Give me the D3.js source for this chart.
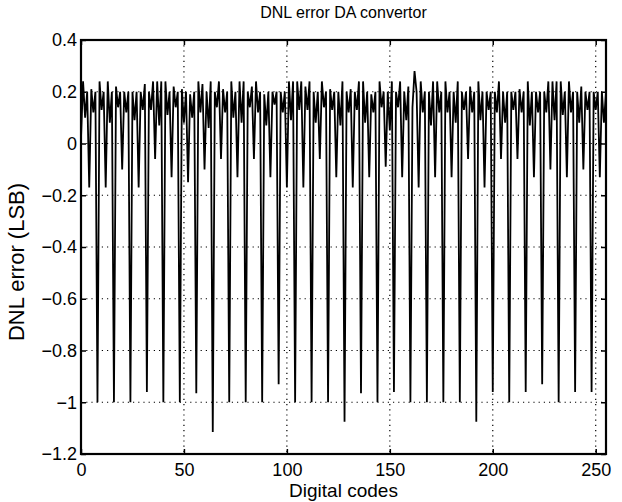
<!DOCTYPE html>
<html>
<head>
<meta charset="utf-8">
<script src="https://cdn.jsdelivr.net/npm/d3@7"></script>
<style>
  body { margin: 0; background: #fff; }
  text { font-family: "Liberation Sans", Arial, Helvetica, sans-serif; fill: #000; }
</style>
</head>
<body>
<div id="chart"></div>
<script>
// DNL error per digital code (0..255)
const dnl = [
   0.02, 0.24, 0.10, 0.20, -0.17, 0.21, 0.12, 0.20,
  -1.00, 0.24, 0.13, 0.20, -0.17, 0.24, 0.08, 0.20,
  -1.00, 0.22, 0.14, 0.20, -0.10, 0.20, 0.12, 0.20,
  -1.00, 0.20, 0.09, 0.20, -0.17, 0.20, 0.13, 0.23,
  -0.96, 0.20, 0.13, 0.24, -0.06, 0.24, 0.07, 0.24,
  -1.00, 0.24, 0.11, 0.20, -0.13, 0.22, 0.14, 0.20,
  -1.00, 0.21, 0.08, 0.20, -0.15, 0.19, 0.10, 0.20,
  -0.965, 0.24, 0.12, 0.23, -0.10, 0.20, 0.06, 0.24,
  -1.115, 0.20, 0.14, 0.24, -0.06, 0.21, 0.12, 0.20,
  -1.00, 0.24, 0.10, 0.20, -0.13, 0.24, 0.08, 0.24,
  -1.00, 0.20, 0.14, 0.22, -0.06, 0.24, 0.12, 0.20,
  -1.00, 0.19, 0.07, 0.20, -0.13, 0.20, 0.15, 0.20,
  -0.93, 0.20, 0.12, 0.20, -0.17, 0.24, 0.09, 0.24,
  -1.00, 0.24, 0.13, 0.24, -0.17, 0.22, 0.13, 0.24,
  -1.00, 0.20, 0.08, 0.20, -0.06, 0.24, 0.14, 0.20,
  -1.00, 0.21, 0.13, 0.20, -0.13, 0.20, 0.07, 0.24,
  -1.075, 0.20, 0.12, 0.21, -0.17, 0.20, 0.13, 0.24,
  -0.965, 0.24, 0.08, 0.20, -0.13, 0.19, 0.12, 0.20,
  -1.00, 0.24, 0.14, 0.20, -0.09, 0.20, 0.05, 0.24,
  -0.96, 0.20, 0.14, 0.24, -0.13, 0.20, 0.09, 0.22,
  -1.00, 0.14, 0.28, 0.20, -0.17, 0.24, 0.12, 0.20,
  -1.00, 0.20, 0.07, 0.24, -0.13, 0.24, 0.12, 0.20,
  -1.00, 0.24, 0.12, 0.20, -0.13, 0.20, 0.08, 0.24,
  -1.00, 0.20, 0.13, 0.20, -0.06, 0.22, 0.12, 0.20,
  -1.075, 0.24, 0.09, 0.20, -0.17, 0.20, 0.13, 0.20,
  -0.96, 0.20, 0.12, 0.24, -0.06, 0.20, 0.08, 0.20,
  -1.00, 0.20, 0.13, 0.20, -0.06, 0.21, 0.12, 0.20,
  -0.96, 0.24, 0.07, 0.20, -0.13, 0.20, 0.12, 0.20,
  -0.93, 0.20, 0.12, 0.24, -0.10, 0.24, 0.09, 0.24,
  -1.00, 0.24, 0.11, 0.20, -0.13, 0.24, 0.12, 0.20,
  -0.96, 0.20, 0.08, 0.22, -0.10, 0.20, 0.13, 0.20,
  -0.96, 0.20, 0.13, 0.20, -0.13, 0.20, 0.08, 0.20
];
const xTicks = [0, 50, 100, 150, 200, 250];
const yTicks = [-1.2, -1, -0.8, -0.6, -0.4, -0.2, 0, 0.2, 0.4];

const margin = {top: 40, right: 16, bottom: 48, left: 81};
const width = 622 - margin.left - margin.right;
const height = 502 - margin.top - margin.bottom;

const svg = d3.select("#chart")
    .append("svg")
    .attr("width", 622)
    .attr("height", 502)
    .append("g")
    .attr("transform", `translate(${margin.left},${margin.top})`);

const x = d3.scaleLinear().domain([0, 255]).range([0, width]);
const y = d3.scaleLinear().domain([-1.2, 0.4]).range([height, 0]);

// grille pointillée
svg.append("g")
    .selectAll("line.gx")
    .data(xTicks.slice(1))
    .enter().append("line")
    .attr("x1", d => x(d)).attr("x2", d => x(d))
    .attr("y1", 0).attr("y2", height)
    .attr("stroke", "#000").attr("stroke-width", 1.2)
    .attr("stroke-dasharray", "1.2,4");

svg.append("g")
    .selectAll("line.gy")
    .data(yTicks.slice(1, -1))
    .enter().append("line")
    .attr("x1", 0).attr("x2", width)
    .attr("y1", d => y(d)).attr("y2", d => y(d))
    .attr("stroke", "#000").attr("stroke-width", 1.2)
    .attr("stroke-dasharray", "1.2,4");

// courbe
const line = d3.line()
    .x((d, i) => x(i))
    .y(d => y(d));

svg.append("path")
    .datum(dnl)
    .attr("fill", "none")
    .attr("stroke", "#000")
    .attr("stroke-width", 1.8)
    .attr("d", line);

// axes avec graduations vers l'intérieur
const fmt = d => d === 0 ? "0" : d3.format("")(d);

svg.append("g")
    .attr("transform", `translate(0,${height})`)
    .call(d3.axisBottom(x).tickValues(xTicks).tickSize(-5).tickPadding(9).tickFormat(d3.format("d")));
svg.append("g")
    .call(d3.axisTop(x).tickValues(xTicks).tickSize(-5).tickFormat(""));

svg.append("g")
    .call(d3.axisLeft(y).tickValues(yTicks).tickSize(-5).tickPadding(4).tickFormat(fmt));
svg.append("g")
    .attr("transform", `translate(${width},0)`)
    .call(d3.axisRight(y).tickValues(yTicks).tickSize(-5).tickFormat(""));

svg.selectAll(".domain").remove();
svg.selectAll(".tick line").attr("stroke", "#000").attr("stroke-width", 1.5);
svg.selectAll(".tick text").style("font-size", "18px").attr("fill", "#000");

svg.append("rect")
    .attr("width", width).attr("height", height)
    .attr("fill", "none").attr("stroke", "#000").attr("stroke-width", 2.2);

// titres
svg.append("text")
    .attr("x", width / 2).attr("y", -22)
    .attr("text-anchor", "middle")
    .style("font-size", "16px")
    .text("DNL error DA convertor");

svg.append("text")
    .attr("x", width / 2).attr("y", height + 43)
    .attr("text-anchor", "middle")
    .style("font-size", "19px")
    .text("Digital codes");

svg.append("text")
    .attr("transform", "rotate(-90)")
    .attr("x", -222).attr("y", -57)
    .attr("text-anchor", "middle")
    .style("font-size", "22px")
    .text("DNL error (LSB)");
</script>
</body>
</html>
